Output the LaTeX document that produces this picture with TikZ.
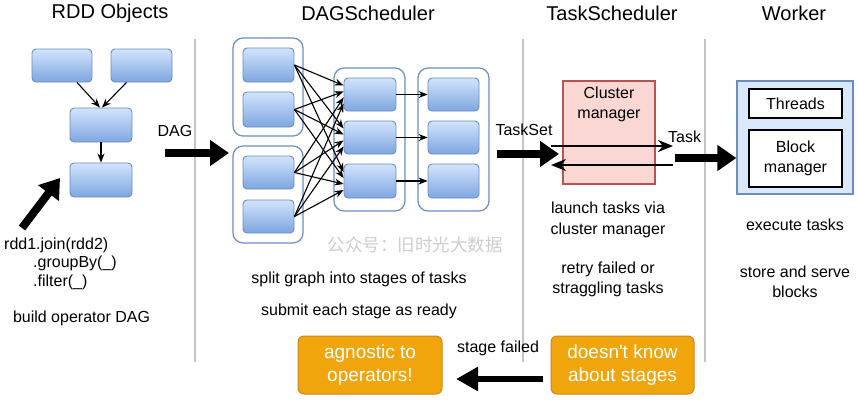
\documentclass[tikz,border=0pt]{standalone}
\usepackage{fontspec}
\setmainfont{Liberation Sans}
\newfontfamily\cjk{Noto Sans CJK SC}
\newfontfamily\plainsans[Ligatures=ResetAll]{Liberation Sans}
\usetikzlibrary{arrows.meta}
\definecolor{boxline}{RGB}{108,142,191}
\definecolor{boxtop}{RGB}{210,228,252}
\definecolor{boxbot}{RGB}{126,166,224}
\definecolor{sepgray}{RGB}{195,195,195}
\definecolor{cmfill}{RGB}{250,215,210}
\definecolor{cmline}{RGB}{184,84,80}
\definecolor{wkfill}{RGB}{218,232,252}
\definecolor{orfill}{RGB}{240,165,12}
\definecolor{orline}{RGB}{205,135,25}
\definecolor{wmgray}{RGB}{205,205,205}
\newcommand{\fs}[1]{\fontsize{#1}{#1}\selectfont}
\tikzset{
  rbox/.style={draw=boxline, line width=0.9pt, rounded corners=4pt, top color=boxtop, bottom color=boxbot, inner sep=0pt},
  grp/.style={draw=boxline, line width=1.2pt, rounded corners=10pt, fill=white, inner sep=0pt},
  arr/.style={line width=1.1pt, -{Stealth[length=9pt,width=7pt]}},
  midarr/.style={line width=2pt, -{Stealth[length=15pt,width=12pt]}},
  bigarr/.style={line width=8pt, -{Triangle[length=19pt,width=25pt]}},
  sep/.style={draw=sepgray, line width=2.2pt},
  ttl/.style={font=\fs{20}, inner sep=0pt},
  txt/.style={font=\fs{16}, inner sep=0pt, align=center},
  orbox/.style={draw=orline, line width=1pt, fill=orfill, rounded corners=6pt, text=white, font=\fs{19}, align=center, inner sep=0pt},
  wbox/.style={draw=black, line width=1.3pt, fill=white, inner sep=0pt, font=\fs{16}, align=center}
}
\begin{document}
\begin{tikzpicture}[x=1pt,y=-1pt]
\useasboundingbox[fill=white] (0,0) rectangle (858,400);

% separators
\coordinate (s1t) at (195,39); \coordinate (s1b) at (195,362);
\coordinate (s2t) at (523,39); \coordinate (s2b) at (523,362);
\coordinate (s3t) at (705,39); \coordinate (s3b) at (705,362);
\draw[sep] (s1t) -- (s1b);
\draw[sep] (s2t) -- (s2b);
\draw[sep] (s3t) -- (s3b);

% titles
\node[ttl] (t1) at (110,13) {RDD Objects};
\node[ttl] (t2) at (368,13) {DAGScheduler};
\node[ttl] (t3) at (612,13) {TaskScheduler};
\node[ttl] (t4) at (794,13) {Worker};

% RDD objects
\node[rbox, minimum width=60pt, minimum height=33pt] (r1) at (62,65.5) {};
\node[rbox, minimum width=61pt, minimum height=33pt] (r2) at (141.5,65.5) {};
\node[rbox, minimum width=62pt, minimum height=34pt] (r3) at (101,125) {};
\node[rbox, minimum width=62pt, minimum height=34pt] (r4) at (101,180) {};
\draw[arr] ([xshift=15pt]r1.south) -- ([xshift=-1pt]r3.north);
\draw[arr] ([xshift=-15pt]r2.south) -- ([xshift=1pt]r3.north);
\draw[arr] (r3) -- (r4);
\coordinate (ra) at (22,228); \coordinate (rb) at (60,178);
\draw[bigarr] (ra) -- (rb);
\node[txt, anchor=west] (c1) at (4,245) {rdd1.join(rdd2)};
\node[txt, anchor=west] (c2) at (33,263.5) {.groupBy(\_)};
\node[txt, anchor=west] (c3) at (33,282) {.filter(\_)};
\node[txt] (c4) at (81.5,318) {build operator DAG};

% DAG arrow
\node[txt] (daglbl) at (175,131) {DAG};
\coordinate (da) at (165,153); \coordinate (db) at (229,153);
\draw[bigarr] (da) -- (db);

% DAGScheduler
\node[grp, minimum width=70pt, minimum height=98pt] (g1) at (268,87) {};
\node[grp, minimum width=70pt, minimum height=97pt] (g2) at (268,194.5) {};
\node[grp, minimum width=71pt, minimum height=143pt] (g3) at (369.5,139.5) {};
\node[grp, minimum width=71pt, minimum height=143pt] (g4) at (453.5,139.5) {};
\node[rbox, minimum width=51pt, minimum height=34pt] (a) at (268.5,65) {};
\node[rbox, minimum width=51pt, minimum height=35pt] (b) at (268.5,109.5) {};
\node[rbox, minimum width=51pt, minimum height=33pt] (c) at (268.5,172.5) {};
\node[rbox, minimum width=51pt, minimum height=33pt] (d) at (268.5,216.5) {};
\node[rbox, minimum width=52pt, minimum height=33pt] (m1) at (370,94.5) {};
\node[rbox, minimum width=52pt, minimum height=33pt] (m2) at (370,137.5) {};
\node[rbox, minimum width=52pt, minimum height=34pt] (m3) at (370,181) {};
\node[rbox, minimum width=51pt, minimum height=33pt] (n1) at (453.5,94.5) {};
\node[rbox, minimum width=51pt, minimum height=33pt] (n2) at (453.5,137.5) {};
\node[rbox, minimum width=51pt, minimum height=34pt] (n3) at (453.5,181) {};
\foreach \s/\o in {a/9,b/3,c/-3,d/-9}
  \foreach \t in {m1,m2,m3}
    \draw[arr] (\s.east) -- ([yshift=\o pt]\t.west);
\draw[arr] (m1) -- (n1);
\draw[arr] (m2) -- (n2);
\draw[arr] (m3) -- (n3);
\node[font=\cjk\fs{17.5}, text=wmgray, inner sep=0pt] (wm) at (415,245) {公众号：旧时光大数据};
\node[txt] (d1) at (359,279) {split graph into stages of tasks};
\node[txt] (d2) at (359,311) {submit each stage as ready};

% TaskScheduler
\node[txt] (tslbl) at (524,130) {TaskSet};
\node[draw=cmline, line width=1.2pt, fill=cmfill, minimum width=92pt, minimum height=103pt, inner sep=0pt] (cm) at (609,132.5) {};
\node[txt] (cmt) at (609,104) {Cluster\\[4pt]manager};
\coordinate (tsa) at (497,154); \coordinate (tsb) at (559,154);
\draw[bigarr] (tsa) -- (tsb);
\coordinate (ca) at (551,146); \coordinate (cb) at (673,146);
\coordinate (cc) at (673,165); \coordinate (cd) at (551,165);
\draw[midarr] (ca) -- (cb);
\draw[midarr] (cc) -- (cd);
\node[txt, anchor=west] (tklbl) at (668,137) {Task};
\node[txt] (e1) at (608,219.5) {launch tasks via\\[5pt]cluster manager};
\node[txt] (e2) at (608,279) {retry failed or\\[4pt]straggling tasks};

% Worker
\node[draw=boxline, line width=1.3pt, fill=wkfill, minimum width=116pt, minimum height=113pt, inner sep=0pt] (wk) at (795,137.5) {};
\node[wbox, minimum width=93pt, minimum height=29pt] (th) at (795.5,103.5) {Threads};
\node[wbox, minimum width=93pt, minimum height=57pt] (bm) at (795.5,158.5) {Block\\[4pt]manager};
\coordinate (wa) at (675,158);
\draw[bigarr] (wa) -- (wa -| wk.west);
\node[txt] (f1) at (795,225) {execute tasks};
\node[txt] (f2) at (795,282) {store and serve\\[4pt]blocks};

% bottom
\node[orbox, minimum width=144pt, minimum height=58pt] (o1) at (370,365) {agnostic to\\[4pt]operators!};
\node[orbox, minimum width=143pt, minimum height=58pt] (o2) at (622.5,365) {{\plainsans doesn't know}\\[4pt]about stages};
\node[txt] (sf) at (498,348) {stage failed};
\coordinate (sa) at (543,379); \coordinate (sb) at (456,379);
\draw[line width=6.5pt, -{Triangle[length=22pt,width=23pt]}] (sa) -- (sb);
\end{tikzpicture}
\end{document}
